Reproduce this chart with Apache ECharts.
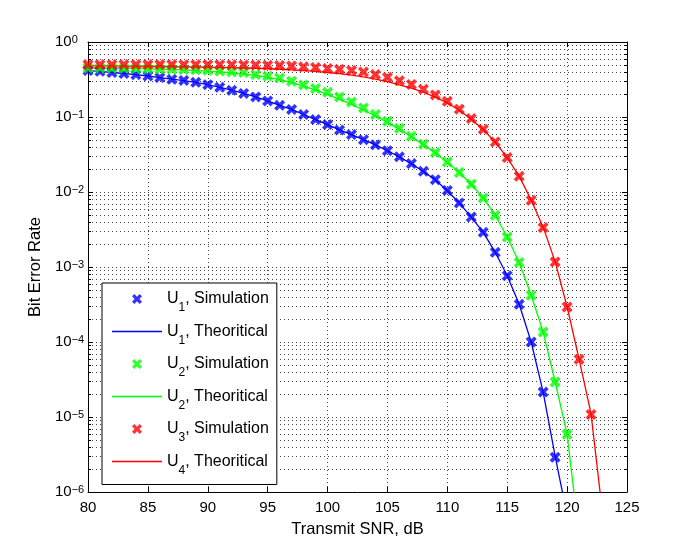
<!DOCTYPE html>
<html>
<head>
<meta charset="utf-8">
<title>Bit Error Rate vs Transmit SNR</title>
<script src="https://cdn.jsdelivr.net/npm/echarts@6/dist/echarts.min.js"></script>
<style>
  html, body { margin: 0; padding: 0; background: #fff; }
  #chart { width: 692px; height: 554px; }
</style>
</head>
<body>
<div id="chart"></div>
<script>
// SNR points (dB)
const snrU1Sim = [80,81,82,83,84,85,86,87,88,89,90,91,92,93,94,95,96,97,98,99,100,101,102,103,104,105,106,107,108,109,110,111,112,113,114,115,116,117,118,119];
const snrU1Theo = [80,81,82,83,84,85,86,87,88,89,90,91,92,93,94,95,96,97,98,99,100,101,102,103,104,105,106,107,108,109,110,111,112,113,114,115,116,117,118,119,120];
const snrU2Sim = [80,81,82,83,84,85,86,87,88,89,90,91,92,93,94,95,96,97,98,99,100,101,102,103,104,105,106,107,108,109,110,111,112,113,114,115,116,117,118,119,120];
const snrU2Theo = [80,81,82,83,84,85,86,87,88,89,90,91,92,93,94,95,96,97,98,99,100,101,102,103,104,105,106,107,108,109,110,111,112,113,114,115,116,117,118,119,120,121];
const snrU3Sim = [80,81,82,83,84,85,86,87,88,89,90,91,92,93,94,95,96,97,98,99,100,101,102,103,104,105,106,107,108,109,110,111,112,113,114,115,116,117,118,119,120,121,122];
const snrU4Theo = [80,81,82,83,84,85,86,87,88,89,90,91,92,93,94,95,96,97,98,99,100,101,102,103,104,105,106,107,108,109,110,111,112,113,114,115,116,117,118,119,120,121,122,123];

// BER values
const berU1Sim = [0.416,0.407,0.391,0.379,0.367,0.352,0.335,0.318,0.307,0.290,0.270,0.249,0.227,0.206,0.185,0.164,0.143,0.126,0.108,0.0925,0.0792,0.0670,0.0583,0.0497,0.0425,0.0356,0.0294,0.0239,0.0189,0.0146,0.0105,0.00713,0.00464,0.0029,0.00157,0.000765,0.000318,0.0001,2.15e-5,2.9e-6];
const berU1Theo = [0.414,0.405,0.392,0.380,0.367,0.352,0.336,0.319,0.306,0.290,0.270,0.249,0.228,0.206,0.185,0.164,0.143,0.126,0.108,0.0925,0.0790,0.0672,0.0582,0.0498,0.0424,0.0355,0.0293,0.0238,0.0188,0.0145,0.0104,0.00712,0.00463,0.0029,0.00157,0.000765,0.000318,0.0001,2.15e-5,3.0e-6,4.9e-7];
const berU2Sim = [0.452,0.450,0.448,0.446,0.443,0.440,0.437,0.433,0.429,0.425,0.419,0.409,0.399,0.392,0.368,0.350,0.331,0.300,0.268,0.240,0.213,0.185,0.158,0.132,0.108,0.0877,0.0705,0.0552,0.0434,0.0335,0.0251,0.0182,0.0127,0.00832,0.00489,0.00251,0.00115,0.00042,0.000136,2.93e-5,5.87e-6];
const berU2Theo = [0.450,0.449,0.447,0.445,0.442,0.439,0.435,0.430,0.424,0.417,0.409,0.400,0.389,0.376,0.360,0.340,0.314,0.287,0.258,0.228,0.200,0.172,0.147,0.124,0.103,0.0845,0.0685,0.0545,0.0428,0.0332,0.0250,0.0182,0.0127,0.0083,0.0049,0.00251,0.00115,0.00042,0.000136,2.95e-5,5.9e-6,2.6e-7];
const berU3Sim = [0.500,0.500,0.500,0.500,0.500,0.500,0.500,0.500,0.499,0.499,0.498,0.497,0.496,0.494,0.492,0.489,0.486,0.479,0.466,0.456,0.442,0.432,0.418,0.398,0.368,0.338,0.305,0.272,0.235,0.197,0.162,0.127,0.0953,0.0686,0.0465,0.0288,0.0162,0.00774,0.00335,0.00117,2.93e-4,5.87e-5,1.08e-5];
const berU4Theo = [0.480,0.480,0.479,0.478,0.477,0.475,0.473,0.471,0.469,0.466,0.463,0.459,0.455,0.450,0.445,0.440,0.433,0.425,0.416,0.405,0.392,0.378,0.361,0.342,0.320,0.296,0.269,0.242,0.214,0.184,0.154,0.123,0.0935,0.0680,0.0463,0.0288,0.0162,0.0078,0.0034,0.00118,2.95e-4,5.9e-5,1.1e-5,4.5e-7];

// axis ticks
const xTickMin = 80, xTickMax = 125, xTickStep = 5;
const yMin = 1e-6, yMax = 1;
const minorMultiples = [2, 3, 4, 5, 6, 7, 8, 9];

const FONT = '"Liberation Sans", Arial, Helvetica, sans-serif';
const xMarker = 'path://M0,2.6 L2.6,0 L5.5,2.9 L8.4,0 L11,2.6 L8.1,5.5 L11,8.4 L8.4,11 L5.5,8.1 L2.6,11 L0,8.4 L2.9,5.5 Z';
const lineIcon = 'path://M0,0 L50,0 L50,1.3 L0,1.3 Z';
const dotted = { color: '#444', width: 1, type: [1, 3] };

function pairs(xs, ys) {
  return xs.map((x, i) => [x, ys[i]]);
}

const chart = echarts.init(document.getElementById('chart'), null, { renderer: 'canvas' });

function simSeries(name, color, xs, ys) {
  return {
    name: name,
    type: 'scatter',
    data: pairs(xs, ys),
    symbol: xMarker,
    symbolSize: 11,
    symbolKeepAspect: true,
    itemStyle: { color: color },
    z: 3
  };
}
function theoSeries(name, color, xs, ys) {
  return {
    name: name,
    type: 'line',
    data: pairs(xs, ys),
    symbol: 'none',
    lineStyle: { color: color, width: 1.3 },
    itemStyle: { color: color },
    clip: true,
    z: 2
  };
}

const option = {
  animation: false,
  backgroundColor: '#fff',
  textStyle: { fontFamily: FONT },
  grid: { left: 88, right: 65, top: 42, bottom: 62, containLabel: false },
  legend: {
    orient: 'vertical',
    left: 102,
    top: 283,
    padding: [1, 8, 8, 10],
    itemWidth: 50,
    itemHeight: 10,
    itemGap: 2.5,
    backgroundColor: '#fff',
    borderColor: '#000',
    borderWidth: 1,
    borderRadius: 0,
    selectedMode: false,
    z: 10,
    data: [
      { name: 'U1, Simulation' },
      { name: 'U1, Theoritical', icon: lineIcon },
      { name: 'U2, Simulation' },
      { name: 'U2, Theoritical', icon: lineIcon },
      { name: 'U3, Simulation' },
      { name: 'U4, Theoritical', icon: lineIcon }
    ],
    formatter: function (name) {
      const m = name.match(/^U(\d), (.*)$/);
      return '{m|U}{sub|' + m[1] + '}{m|, ' + m[2] + '}';
    },
    textStyle: {
      fontFamily: FONT,
      rich: {
        m: { fontSize: 16, lineHeight: 30, color: '#000', fontFamily: FONT },
        sub: { fontSize: 12, lineHeight: 12, padding: [18, 0, 0, 0], verticalAlign: 'bottom', color: '#000', fontFamily: FONT }
      }
    }
  },
  xAxis: [{
    type: 'value',
    min: xTickMin,
    max: xTickMax,
    interval: xTickStep,
    position: 'bottom',
    name: 'Transmit SNR, dB',
    nameLocation: 'middle',
    nameGap: 29,
    nameTextStyle: { fontSize: 16.5, color: '#000', fontFamily: FONT },
    axisLine: { lineStyle: { color: '#000', width: 1 } },
    axisTick: { inside: true, length: 5, lineStyle: { color: '#000' } },
    axisLabel: { fontSize: 15, color: '#000', margin: 8, fontFamily: FONT },
    splitLine: { show: true, lineStyle: dotted }
  }, {
    type: 'value',
    min: xTickMin,
    max: xTickMax,
    interval: xTickStep,
    position: 'top',
    axisLine: { lineStyle: { color: '#000', width: 1 } },
    axisTick: { inside: true, length: 5, lineStyle: { color: '#000' } },
    axisLabel: { show: false },
    splitLine: { show: false }
  }],
  yAxis: [{
    type: 'log',
    logBase: 10,
    min: yMin,
    max: yMax,
    position: 'left',
    name: 'Bit Error Rate',
    nameLocation: 'middle',
    nameGap: 38,
    nameTextStyle: { fontSize: 16.5, color: '#000', fontFamily: FONT },
    axisLine: { show: true, lineStyle: { color: '#000', width: 1 } },
    axisTick: { show: true, inside: true, length: 5, lineStyle: { color: '#000' } },
    axisLabel: {
      color: '#000',
      align: 'left',
      margin: 33,
      formatter: function (v) {
        const e = Math.round(Math.log10(v));
        return '{b|10}{s|' + (e < 0 ? '\u2212' + (-e) : e) + '}';
      },
      rich: {
        b: { fontSize: 15, lineHeight: 15, color: '#000', fontFamily: FONT },
        s: { fontSize: 11, lineHeight: 11, padding: [0, 0, 18, 0], verticalAlign: 'top', color: '#000', fontFamily: FONT }
      }
    },
    splitLine: { show: true, lineStyle: dotted }
  }, {
    type: 'log',
    logBase: 10,
    min: yMin,
    max: yMax,
    position: 'right',
    axisLine: { show: true, lineStyle: { color: '#000', width: 1 } },
    axisTick: { show: true, inside: true, length: 5, lineStyle: { color: '#000' } },
    axisLabel: { show: false },
    splitLine: { show: false }
  }],
  series: [
    simSeries('U1, Simulation', '#0000ff', snrU1Sim, berU1Sim),
    theoSeries('U1, Theoritical', '#0000ff', snrU1Theo, berU1Theo),
    simSeries('U2, Simulation', '#00ff00', snrU2Sim, berU2Sim),
    theoSeries('U2, Theoritical', '#00ff00', snrU2Theo, berU2Theo),
    simSeries('U3, Simulation', '#ff0000', snrU3Sim, berU3Sim),
    theoSeries('U4, Theoritical', '#ff0000', snrU4Theo, berU4Theo)
  ]
};

chart.setOption(option);

// minor (2..9 x 10^k) dotted grid and minor ticks, placed through the log axis
const xl = chart.convertToPixel({ xAxisIndex: 0 }, xTickMin);
const xr = chart.convertToPixel({ xAxisIndex: 0 }, xTickMax);
const elements = [];
for (let e = Math.round(Math.log10(yMin)); e < Math.round(Math.log10(yMax)); e++) {
  minorMultiples.forEach(function (k) {
    const y = Math.round(chart.convertToPixel({ yAxisIndex: 0 }, k * Math.pow(10, e))) + 0.5;
    elements.push({
      type: 'line', silent: true, z: 0,
      shape: { x1: xl, y1: y, x2: xr, y2: y },
      style: { stroke: '#444', lineWidth: 1, lineDash: [1, 3] }
    });
    elements.push({
      type: 'line', silent: true, z: 1,
      shape: { x1: xl, y1: y, x2: xl + 3, y2: y },
      style: { stroke: '#000', lineWidth: 1 }
    });
    elements.push({
      type: 'line', silent: true, z: 1,
      shape: { x1: xr - 3, y1: y, x2: xr, y2: y },
      style: { stroke: '#000', lineWidth: 1 }
    });
  });
}
chart.setOption({ graphic: { elements: elements } });
</script>
</body>
</html>
